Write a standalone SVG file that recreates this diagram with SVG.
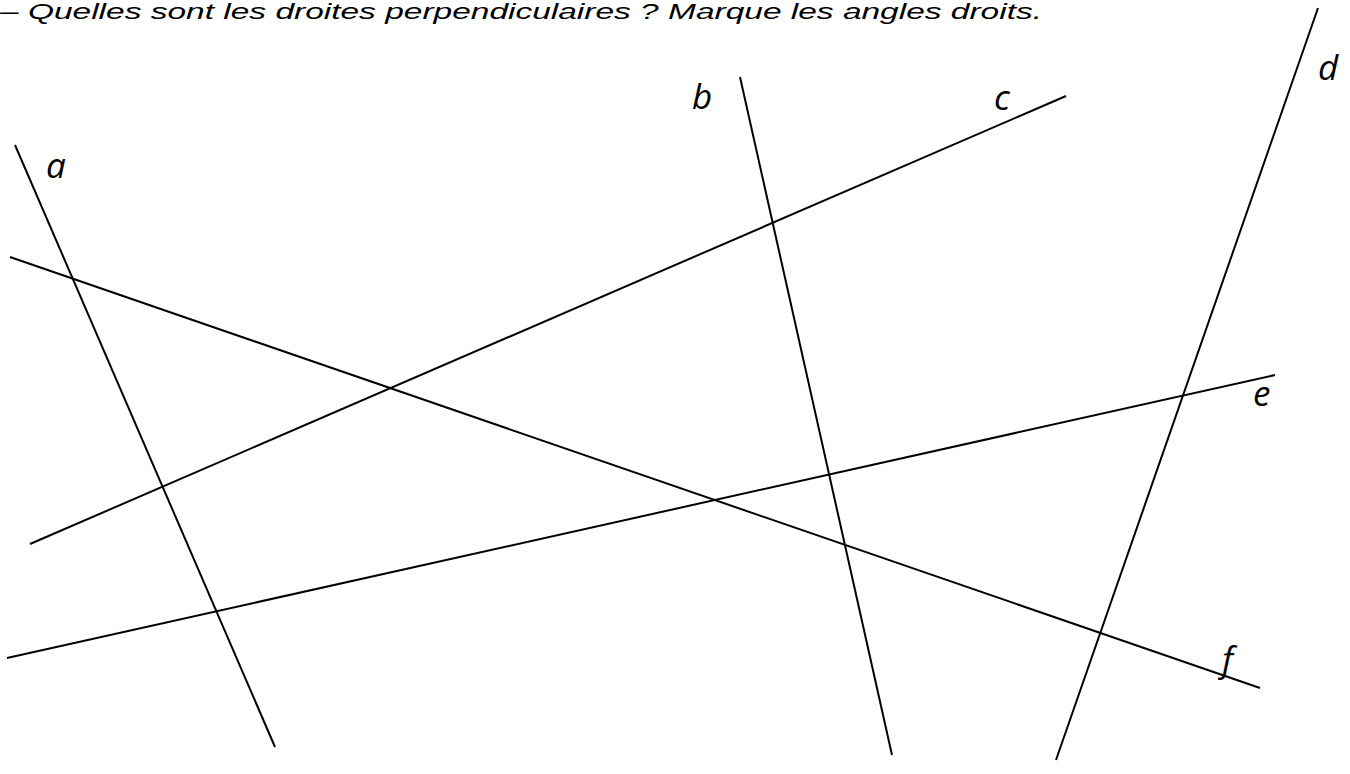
<svg xmlns="http://www.w3.org/2000/svg" width="1350" height="774" viewBox="0 0 1350 774">
<style>
.ln{stroke:#000;stroke-width:2;fill:none;stroke-linecap:butt}
.lb{font-family:"Open Sans","Liberation Sans",sans-serif;font-style:italic;font-size:35px;fill:#000}
.tt{font-family:"Liberation Sans",sans-serif;font-style:italic;font-size:22px;fill:#000}
</style>
<rect width="1350" height="774" fill="#fff"/>
<text class="tt" x="0" y="19" textLength="1042" lengthAdjust="spacingAndGlyphs">– Quelles sont les droites perpendiculaires ? Marque les angles droits.</text>
<g id="connectors">
<line id="line-a" class="ln" x1="15" y1="145" x2="275" y2="747"/>
<line id="line-b" class="ln" x1="740" y1="77" x2="892" y2="755"/>
<line id="line-c" class="ln" x1="30" y1="544" x2="1066" y2="96"/>
<line id="line-d" class="ln" x1="1318" y1="8" x2="1056" y2="760"/>
<line id="line-e" class="ln" x1="7" y1="658" x2="1275" y2="375"/>
<line id="line-f" class="ln" x1="10" y1="257" x2="1260" y2="688"/>
</g>
<g id="label-a"><text class="lb" x="46" y="178">a</text></g>
<g id="label-b"><text class="lb" x="692" y="109">b</text></g>
<g id="label-c"><text class="lb" x="994" y="110">c</text></g>
<g id="label-d"><text class="lb" x="1318" y="80">d</text></g>
<g id="label-e"><text class="lb" x="1253" y="406">e</text></g>
<g id="label-f"><text class="lb" x="1222" y="672">f</text></g>
</svg>
